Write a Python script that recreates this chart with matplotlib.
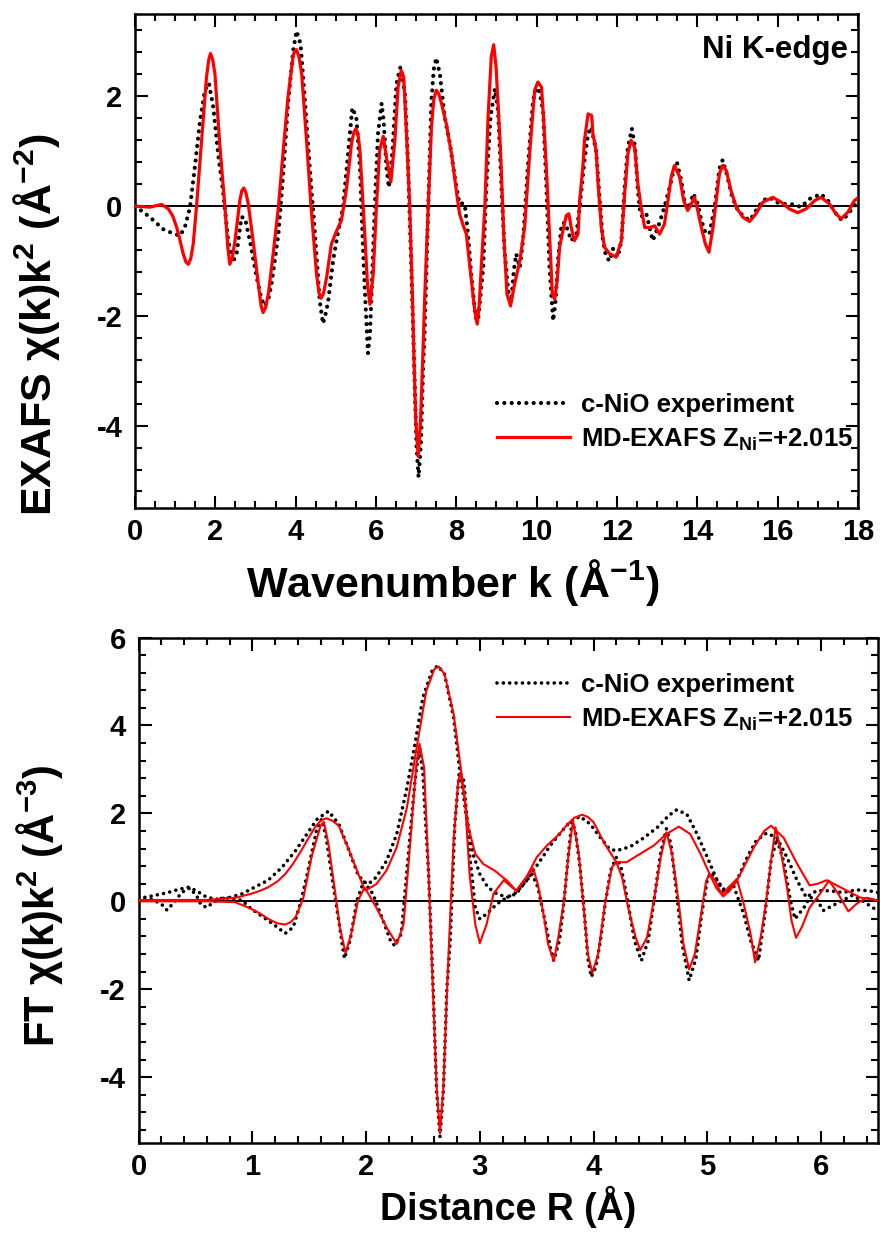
import matplotlib
matplotlib.use("Agg")
import matplotlib.pyplot as plt
from matplotlib.ticker import MultipleLocator

plt.rcParams['font.family'] = ['Liberation Sans', 'DejaVu Sans']
plt.rcParams['font.weight'] = 'bold'
plt.rcParams['mathtext.fontset'] = 'custom'
plt.rcParams['mathtext.rm'] = 'Liberation Sans:bold'
plt.rcParams['mathtext.it'] = 'Liberation Sans:bold'
plt.rcParams['mathtext.bf'] = 'Liberation Sans:bold'
plt.rcParams['mathtext.default'] = 'regular'
plt.rcParams['axes.unicode_minus'] = False

# ---------------- top panel data: EXAFS chi(k)k^2 ----------------
k_exp = [0, 0.37, 0.7, 0.95, 1.12, 1.24, 1.37, 1.49, 1.62, 1.74, 1.84, 1.95, 2.07, 2.2, 2.32, 2.43,
         2.53, 2.65, 2.74, 2.86, 3.03, 3.15, 3.23, 3.32, 3.4, 3.57, 3.69, 3.81, 3.94, 4.02, 4.12,
         4.23, 4.35, 4.48, 4.6, 4.68, 4.75, 4.81, 4.93, 5.06, 5.18, 5.31, 5.41, 5.51, 5.6, 5.68,
         5.74, 5.8, 5.85, 5.93, 5.97, 6.05, 6.14, 6.19, 6.26, 6.32, 6.41, 6.51, 6.61, 6.72, 6.8,
         6.88, 6.95, 7.01, 7.06, 7.12, 7.17, 7.21, 7.3, 7.38, 7.44, 7.5, 7.59, 7.71, 7.84, 7.96,
         8.08, 8.15, 8.21, 8.29, 8.37, 8.48, 8.54, 8.67, 8.75, 8.85, 8.96, 9.04, 9.12, 9.2, 9.29,
         9.37, 9.43, 9.49, 9.58, 9.66, 9.78, 9.91, 10.03, 10.16, 10.24, 10.32, 10.41, 10.47, 10.53,
         10.62, 10.7, 10.78, 10.86, 10.99, 11.07, 11.19, 11.28, 11.36, 11.48, 11.57, 11.65, 11.73,
         11.82, 11.9, 12.02, 12.11, 12.19, 12.27, 12.37, 12.45, 12.52, 12.58, 12.64, 12.73, 12.81,
         12.89, 13.02, 13.18, 13.31, 13.41, 13.49, 13.6, 13.68, 13.79, 13.9, 14.01, 14.1, 14.2,
         14.3, 14.43, 14.55, 14.63, 14.73, 14.87, 15.01, 15.17, 15.31, 15.46, 15.63, 15.8, 15.96,
         16.17, 16.42, 16.58, 16.79, 17.08, 17.29, 17.5, 17.62, 17.79, 17.95]
chi_exp = [0, -0.2, -0.42, -0.5, -0.54, -0.39, -0.02, 0.71, 1.56, 2.11, 2.24, 1.8, 0.95, 0.22, -0.63,
           -1.03, -0.87, -0.2, -0.22, -0.63, -1.3, -1.7, -1.82, -1.7, -1.42, -0.51, 0.59, 1.87, 2.84,
           3.19, 2.96, 1.93, 0.71, -0.51, -1.73, -2.14, -1.95, -1.73, -1.0, -0.45, -0.02, 1.01, 1.79,
           1.62, 0.71, -0.81, -1.8, -2.68, -2.33, -0.81, -0.02, 1.32, 1.87, 1.56, 0.71, 0.34, 1.01,
           2.23, 2.54, 2.05, 0.71, -1.12, -2.9, -4.4, -4.94, -4.3, -3.0, -2.33, -0.02, 1.93, 2.5,
           2.7, 2.41, 1.62, 1.14, 0.53, 0.04, 0.05, 0.03, -0.51, -1.24, -2.03, -2.09, -1.12, 0.4,
           1.62, 2.14, 1.74, 0.4, -0.81, -1.54, -1.73, -1.18, -0.87, -1.12, -0.63, 0.71, 1.93, 2.23,
           1.74, 0.4, -1.12, -2.09, -1.73, -1.0, -0.33, -0.3, -0.45, -0.63, -0.51, -0.02, 0.83, 1.32,
           1.44, 1.01, 0.1, -0.63, -0.93, -1.0, -0.78, -0.93, -0.63, 0.34, 1.07, 1.41, 1.07, 0.28,
           -0.14, -0.2, -0.14, -0.39, -0.63, -0.39, -0.02, 0.34, 0.65, 0.8, 0.47, 0.1, -0.05, 0.23,
           0.04, -0.26, -0.48, -0.51, -0.02, 0.68, 0.84, 0.59, 0.16, -0.08, -0.2, -0.26, -0.08, 0.1,
           0.16, 0.07, 0.04, 0.03, -0.02, 0.13, 0.22, 0.07, -0.2, -0.26, -0.11, 0.04]

k_md = [0, 0.37, 0.66, 0.83, 0.94, 1.04, 1.12, 1.2, 1.27, 1.33, 1.39, 1.45, 1.53, 1.66, 1.78, 1.84,
        1.88, 1.93, 1.99, 2.11, 2.24, 2.31, 2.36, 2.42, 2.49, 2.61, 2.66, 2.71, 2.76, 2.82, 2.94,
        3.07, 3.14, 3.19, 3.25, 3.32, 3.44, 3.57, 3.69, 3.81, 3.94, 3.98, 4.02, 4.08, 4.15, 4.27,
        4.39, 4.52, 4.58, 4.63, 4.69, 4.77, 4.89, 5.02, 5.14, 5.27, 5.39, 5.45, 5.5, 5.55, 5.6,
        5.72, 5.79, 5.85, 5.93, 6.01, 6.09, 6.18, 6.26, 6.37, 6.47, 6.55, 6.63, 6.69, 6.76, 6.84,
        6.91, 6.94, 6.99, 7.05, 7.11, 7.17, 7.21, 7.3, 7.38, 7.44, 7.5, 7.56, 7.63, 7.75, 7.88, 8.0,
        8.08, 8.17, 8.25, 8.33, 8.46, 8.52, 8.57, 8.62, 8.71, 8.79, 8.87, 8.93, 8.99, 9.1, 9.18,
        9.26, 9.35, 9.45, 9.58, 9.7, 9.83, 9.95, 10.03, 10.12, 10.17, 10.24, 10.32, 10.39, 10.45,
        10.51, 10.57, 10.67, 10.74, 10.8, 10.86, 10.94, 11.03, 11.07, 11.15, 11.19, 11.28, 11.37,
        11.4, 11.48, 11.53, 11.61, 11.69, 11.82, 11.98, 12.11, 12.19, 12.27, 12.35, 12.44, 12.52,
        12.6, 12.69, 12.81, 12.94, 13.06, 13.18, 13.27, 13.35, 13.43, 13.56, 13.66, 13.76, 13.85,
        13.93, 14.01, 14.1, 14.2, 14.29, 14.39, 14.47, 14.55, 14.63, 14.72, 14.84, 14.97, 15.13,
        15.3, 15.46, 15.63, 15.88, 16.09, 16.29, 16.5, 16.71, 16.92, 17.08, 17.29, 17.45, 17.58,
        17.75, 17.91, 18.0]
chi_md = [0, -0.02, 0.03, -0.05, -0.18, -0.39, -0.62, -0.87, -1.02, -1.06, -0.95, -0.69, -0.02, 1.2,
          2.35, 2.68, 2.78, 2.68, 2.41, 1.13, -0.02, -0.75, -1.06, -0.95, -0.63, 0.1, 0.28, 0.33,
          0.25, 0.04, -0.63, -1.42, -1.82, -1.94, -1.85, -1.6, -0.87, -0.02, 1.01, 1.99, 2.75, 2.83,
          2.85, 2.73, 2.41, 1.2, -0.08, -1.24, -1.58, -1.68, -1.6, -1.3, -0.69, -0.45, -0.26, 0.34,
          1.14, 1.35, 1.41, 1.32, 1.01, -0.51, -1.45, -1.79, -1.24, -0.02, 1.01, 1.27, 0.89, 0.44,
          1.2, 2.17, 2.47, 2.35, 1.32, -0.02, -1.73, -2.64, -3.9, -4.56, -3.9, -2.64, -1.73, -0.02,
          1.44, 1.95, 2.11, 2.05, 1.87, 1.5, 0.95, 0.28, -0.14, -0.35, -0.51, -1.06, -1.91, -2.15,
          -1.8, -1.12, -0.02, 1.62, 2.72, 2.94, 2.53, 1.01, -0.51, -1.6, -1.82, -1.42, -1.0, -0.39,
          1.01, 2.11, 2.26, 2.17, 1.62, 0.71, -0.51, -1.6, -1.7, -1.36, -0.75, -0.39, -0.17, -0.14,
          -0.39, -0.63, -0.51, 0.1, 0.71, 1.2, 1.68, 1.65, 1.32, 1.01, 0.4, -0.39, -0.75, -0.87,
          -0.93, -0.63, 0.22, 0.95, 1.2, 1.07, 0.4, -0.02, -0.39, -0.39, -0.36, -0.51, -0.33, 0.1,
          0.53, 0.74, 0.53, 0.1, -0.08, 0.04, 0.16, -0.08, -0.39, -0.69, -0.84, -0.39, 0.1, 0.59,
          0.74, 0.65, 0.28, -0.02, -0.2, -0.28, -0.14, 0.07, 0.16, 0.07, -0.05, -0.12, -0.05, 0.1,
          0.16, 0.04, -0.14, -0.23, -0.11, 0.1, 0.15]

# ---------------- bottom panel data: Fourier transforms ----------------
R_exp_mag = [0, 0.06, 0.17, 0.26, 0.35, 0.44, 0.51, 0.6, 0.69, 0.79, 0.91, 1.02, 1.14, 1.26, 1.38,
             1.48, 1.57, 1.67, 1.76, 1.84, 1.93, 1.98, 2.02, 2.09, 2.18, 2.27, 2.36, 2.43, 2.5, 2.58,
             2.63, 2.69, 2.77, 2.82, 2.88, 2.94, 3.0, 3.07, 3.15, 3.24, 3.32, 3.41, 3.53, 3.62, 3.7,
             3.79, 3.88, 3.97, 4.06, 4.14, 4.2, 4.32, 4.44, 4.56, 4.66, 4.73, 4.82, 4.91, 5.0, 5.08,
             5.11, 5.17, 5.26, 5.35, 5.43, 5.52, 5.61, 5.7, 5.79, 5.87, 5.96, 6.07, 6.19, 6.31, 6.42, 6.5]
exp_mag = [0.1, 0.09, 0.15, 0.2, 0.27, 0.32, 0.24, 0.09, 0.05, 0.08, 0.17, 0.32, 0.48, 0.77, 1.15,
           1.53, 1.87, 2.05, 1.76, 1.23, 0.6, 0.45, 0.39, 0.55, 0.92, 1.53, 2.59, 3.58, 4.64, 5.24,
           5.36, 5.17, 4.18, 3.05, 1.98, 1.08, 0.62, 0.32, 0.17, 0.09, 0.17, 0.47, 0.92, 1.27, 1.53,
           1.8, 1.93, 1.76, 1.45, 1.19, 1.15, 1.24, 1.44, 1.68, 1.95, 2.08, 1.98, 1.53, 1.0, 0.51,
           0.39, 0.2, 0.47, 1.0, 1.38, 1.55, 1.45, 1.0, 0.47, 0.09, 0.24, 0.24, 0.2, 0.26, 0.24, 0.2]

R_exp_im = [0, 0.11, 0.2, 0.25, 0.3, 0.38, 0.45, 0.51, 0.55, 0.6, 0.66, 0.73, 0.82, 0.91, 0.99, 1.08,
            1.2, 1.29, 1.36, 1.43, 1.49, 1.57, 1.61, 1.65, 1.71, 1.76, 1.81, 1.86, 1.92, 1.98, 2.06,
            2.15, 2.22, 2.25, 2.31, 2.37, 2.43, 2.47, 2.5, 2.55, 2.59, 2.62, 2.65, 2.68, 2.71, 2.74,
            2.78, 2.82, 2.86, 2.91, 2.96, 3.0, 3.06, 3.15, 3.24, 3.32, 3.41, 3.46, 3.51, 3.56, 3.62,
            3.65, 3.7, 3.74, 3.78, 3.81, 3.84, 3.88, 3.92, 3.95, 3.98, 4.02, 4.06, 4.1, 4.15, 4.2,
            4.24, 4.3, 4.36, 4.42, 4.48, 4.53, 4.59, 4.64, 4.68, 4.73, 4.78, 4.84, 4.9, 4.95, 5.0,
            5.03, 5.08, 5.14, 5.23, 5.32, 5.38, 5.45, 5.51, 5.56, 5.61, 5.67, 5.73, 5.77, 5.85, 5.9,
            5.96, 6.02, 6.1, 6.19, 6.27, 6.36, 6.45, 6.5]
exp_im = [0.03, 0.05, -0.06, -0.2, -0.06, 0.2, 0.3, 0.13, -0.08, -0.14, -0.02, 0.07, 0.07, 0.02,
          -0.17, -0.33, -0.55, -0.73, -0.59, 0.02, 0.7, 1.68, 1.87, 1.45, 0.39, -0.44, -1.3, -0.89,
          0.02, 0.45, 0.17, -0.44, -0.93, -1.0, -0.74, 1.0, 2.74, 3.5, 2.89, 0.62, -2.0, -4.3, -5.35,
          -4.3, -2.0, -0.89, 1.76, 2.95, 2.74, 1.08, -0.14, -0.4, -0.29, -0.06, 0.09, 0.2, 0.47, 0.62,
          0.32, -0.29, -1.05, -1.35, -0.89, 0.0, 1.1, 1.8, 1.6, 0.8, -0.3, -1.3, -1.72, -1.5, -0.9,
          -0.1, 0.7, 1.0, 0.8, 0.0, -0.9, -1.35, -0.9, 0.0, 1.1, 1.65, 1.3, 0.2, -1.0, -1.8, -1.3,
          -0.3, 0.5, 0.65, 0.5, 0.24, 0.36, -0.29, -0.89, -1.35, -0.21, 0.92, 1.42, 0.92, 0.02, -0.4,
          -0.14, 0.09, 0.05, -0.21, -0.1, 0.02, 0.13, 0.02, -0.14, -0.21]

R_md_mag = [0, 0.3, 0.6, 0.85, 0.99, 1.07, 1.14, 1.22, 1.29, 1.36, 1.43, 1.49, 1.55, 1.6, 1.65, 1.7,
            1.76, 1.84, 1.92, 1.98, 2.005, 2.09, 2.18, 2.27, 2.36, 2.44, 2.53, 2.6, 2.64, 2.69, 2.77,
            2.84, 2.9, 2.96, 3.03, 3.13, 3.24, 3.32, 3.41, 3.5, 3.59, 3.7, 3.76, 3.83, 3.9, 3.95, 4.0,
            4.1, 4.2, 4.29, 4.41, 4.53, 4.64, 4.75, 4.85, 4.94, 5.02, 5.08, 5.14, 5.2, 5.26, 5.41,
            5.5, 5.56, 5.67, 5.79, 5.9, 5.97, 6.05, 6.2, 6.34, 6.49]
md_mag = [0.03, 0.03, 0.03, 0.08, 0.17, 0.24, 0.32, 0.45, 0.62, 0.86, 1.15, 1.42, 1.68, 1.83, 1.89,
          1.84, 1.72, 1.23, 0.7, 0.32, 0.26, 0.39, 0.7, 1.23, 2.14, 3.42, 4.79, 5.28, 5.34, 5.17,
          4.26, 2.89, 1.68, 1.08, 0.85, 0.7, 0.47, 0.24, 0.55, 1.0, 1.27, 1.53, 1.72, 1.9, 1.97,
          1.92, 1.8, 1.3, 0.89, 0.89, 1.08, 1.27, 1.53, 1.7, 1.53, 1.08, 0.62, 0.3, 0.11, 0.25,
          0.47, 1.23, 1.6, 1.72, 1.45, 0.85, 0.36, 0.4, 0.48, 0.28, 0.09, 0.02]

R_md_im = [0, 0.6, 0.85, 0.99, 1.07, 1.14, 1.22, 1.29, 1.34, 1.38, 1.42, 1.45, 1.52, 1.6, 1.63, 1.67,
           1.73, 1.77, 1.82, 1.87, 1.93, 1.98, 2.005, 2.09, 2.18, 2.27, 2.33, 2.39, 2.44, 2.47, 2.51,
           2.55, 2.58, 2.62, 2.65, 2.68, 2.72, 2.77, 2.81, 2.83, 2.87, 2.91, 2.96, 3.0, 3.06, 3.12,
           3.21, 3.32, 3.41, 3.47, 3.51, 3.56, 3.6, 3.65, 3.69, 3.74, 3.78, 3.82, 3.87, 3.91, 3.95,
           3.99, 4.04, 4.1, 4.16, 4.2, 4.25, 4.31, 4.37, 4.41, 4.47, 4.53, 4.59, 4.64, 4.69, 4.75,
           4.79, 4.84, 4.89, 4.95, 4.99, 5.02, 5.07, 5.11, 5.14, 5.2, 5.26, 5.32, 5.38, 5.42, 5.47,
           5.51, 5.56, 5.6, 5.64, 5.7, 5.74, 5.78, 5.83, 5.9, 5.99, 6.07, 6.15, 6.24, 6.31, 6.4, 6.5]
md_im = [0, 0, -0.02, -0.17, -0.28, -0.4, -0.5, -0.53, -0.47, -0.36, -0.12, 0.09, 1.0, 1.72, 1.8,
         1.3, 0.17, -0.59, -1.18, -0.74, 0.02, 0.28, 0.24, -0.14, -0.59, -0.97, -0.52, 1.38, 3.05,
         3.58, 3.05, 0.62, -1.5, -4.2, -5.28, -4.2, -1.5, 1.38, 2.74, 2.93, 2.29, 0.62, -0.52, -0.95,
         -0.52, 0.17, 0.48, 0.24, 0.55, 0.75, 0.39, -0.29, -0.97, -1.36, -0.82, 0.02, 1.08, 1.83,
         1.08, -0.06, -1.2, -1.63, -1.2, -0.06, 0.77, 0.89, 0.55, -0.21, -0.82, -1.11, -0.82, 0.02,
         1.0, 1.57, 1.08, -0.06, -0.97, -1.55, -1.2, -0.21, 0.47, 0.62, 0.47, 0.24, 0.17, 0.35, 0.51,
         -0.06, -0.74, -1.39, -0.8, -0.14, 0.92, 1.68, 1.23, 0.32, -0.44, -0.83, -0.59, -0.14, 0.17,
         0.47, 0.17, -0.23, -0.06, 0.08, 0.02]

label_exp = 'c-NiO experiment'
label_md = 'MD-EXAFS Z$_{Ni}$=+2.015'

# ---------------- figure ----------------
fig = plt.figure(figsize=(8.8, 12.38), dpi=100)
ax1 = fig.add_axes([0.1534, 0.5897, 0.8216, 0.399])
ax2 = fig.add_axes([0.1574, 0.0767, 0.8403, 0.4083])

dot_style = (0, (0.01, 1.75))

ax1.axhline(0, color='black', lw=1.4, zorder=1)
ax1.plot(k_exp, chi_exp, color='black', lw=3.0, linestyle=dot_style, dash_capstyle='round',
         label=label_exp, zorder=2)
ax1.plot(k_md, chi_md, color='#ff0000', lw=2.3, label=label_md, zorder=3)
ax1.set_xlim(0, 18)
ax1.set_ylim(-5.5, 3.5)
ax1.xaxis.set_major_locator(MultipleLocator(2))
ax1.xaxis.set_minor_locator(MultipleLocator(0.5))
ax1.yaxis.set_major_locator(MultipleLocator(2))
ax1.yaxis.set_minor_locator(MultipleLocator(0.4))
ax1.set_xlabel('Wavenumber k (Å$^{-1}$)', fontsize=31, fontweight='bold')
ax1.xaxis.set_label_coords(0.44, -0.100)
ax1.set_ylabel('EXAFS χ(k)k$^{2}$ (Å$^{-2}$)', fontsize=31, fontweight='bold')
ax1.yaxis.set_label_coords(-0.101, 0.37)
ax1.text(0.986, 0.927, 'Ni K-edge', transform=ax1.transAxes, ha='right', va='center',
         fontsize=22.5, fontweight='bold')
ax1.legend(loc='upper left', bbox_to_anchor=(0.501, 0.232), frameon=False, fontsize=18.5,
           handlelength=2.85, handletextpad=0.4, labelspacing=0.35, borderpad=0, borderaxespad=0)

ax2.axhline(0, color='black', lw=1.4, zorder=1)
ax2.plot(R_exp_mag, exp_mag, color='black', lw=2.6, linestyle=dot_style, dash_capstyle='round',
         label=label_exp, zorder=2)
ax2.plot(R_exp_im, exp_im, color='black', lw=2.6, linestyle=dot_style, dash_capstyle='round', zorder=2)
ax2.plot(R_md_mag, md_mag, color='#ff0000', lw=1.5, label=label_md, zorder=3)
ax2.plot(R_md_im, md_im, color='#ff0000', lw=1.5, zorder=3)
ax2.set_xlim(0, 6.5)
ax2.set_ylim(-5.5, 6)
ax2.xaxis.set_major_locator(MultipleLocator(1))
ax2.xaxis.set_minor_locator(MultipleLocator(0.2))
ax2.yaxis.set_major_locator(MultipleLocator(2))
ax2.yaxis.set_minor_locator(MultipleLocator(0.4))
ax2.set_xlabel('Distance R (Å)', fontsize=27, fontweight='bold', labelpad=4)
ax2.set_ylabel('FT χ(k)k$^{2}$ (Å$^{-3}$)', fontsize=30, fontweight='bold')
ax2.yaxis.set_label_coords(-0.0995, 0.47)
ax2.legend(loc='upper left', bbox_to_anchor=(0.485, 0.929), frameon=False, fontsize=18.5,
           handlelength=2.85, handletextpad=0.4, labelspacing=0.35, borderpad=0, borderaxespad=0)

for ax in (ax1, ax2):
    for sp in ax.spines.values():
        sp.set_linewidth(1.8)
    ax.tick_params(which='both', direction='in', top=True, right=True, width=1.5)
    ax.tick_params(which='major', length=9, labelsize=21)
    ax.tick_params(axis='x', which='major', pad=7)
    ax.tick_params(axis='y', which='major', pad=9)
    ax.tick_params(which='minor', length=5)
    for lab in ax.get_xticklabels() + ax.get_yticklabels():
        lab.set_fontweight('bold')

fig.savefig('out.png', dpi=100)
